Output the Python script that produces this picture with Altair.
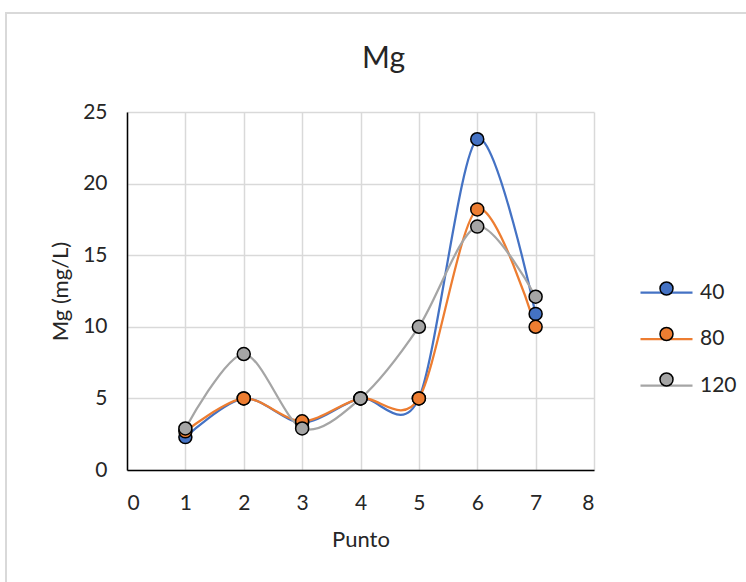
import altair as alt
import pandas as pd

# Sampling points and Mg concentration for each dose
puntos = [1, 2, 3, 4, 5, 6, 7]
series = ["40", "80", "120"]
mg_40 = [2.3, 5.0, 3.3, 5.0, 5.0, 23.1, 10.9]
mg_80 = [2.7, 5.0, 3.4, 5.0, 5.0, 18.2, 10.0]
mg_120 = [2.9, 8.1, 2.9, 5.0, 10.0, 17.0, 12.1]
colores = ["#4472C4", "#ED7D31", "#A5A5A5"]

rows = []
for orden, (serie, valores) in enumerate(zip(series, [mg_40, mg_80, mg_120])):
    for p, v in zip(puntos, valores):
        rows.append({"Punto": p, "Mg": v, "serie": serie, "orden": orden})
df = pd.DataFrame(rows)

FONT = "Lato"
TXT = "#262626"

x_enc = alt.X(
    "Punto:Q",
    scale=alt.Scale(domain=[0, 8], nice=False),
    axis=alt.Axis(values=list(range(0, 9)), title="Punto", format="d"),
)
y_enc = alt.Y(
    "Mg:Q",
    scale=alt.Scale(domain=[0, 25], nice=False),
    axis=alt.Axis(values=[0, 5, 10, 15, 20, 25], title="Mg (mg/L)", format="d"),
)

base = alt.Chart(df)

lines = base.mark_line(interpolate="cardinal", tension=0.1, strokeWidth=2.25).encode(
    x=x_enc,
    y=y_enc,
    color=alt.Color(
        "serie:N",
        scale=alt.Scale(domain=series, range=colores),
        legend=alt.Legend(
            title=None,
            orient="none",
            legendX=512,
            legendY=153,
            padding=0,
            symbolType="stroke",
            symbolSize=2704,
            symbolStrokeWidth=2.25,
            labelFontSize=21,
            labelFont=FONT,
            labelColor=TXT,
            labelOffset=6,
            rowPadding=8.5,
        ),
    ),
    detail="orden:O",
)

points = base.mark_point(
    filled=True, size=169, stroke="black", strokeWidth=1.5, opacity=1
).encode(
    x=x_enc,
    y=y_enc,
    fill=alt.Fill(
        "orden:N",
        scale=alt.Scale(domain=[0, 1, 2], range=colores),
        legend=alt.Legend(
            title=None,
            orient="none",
            legendX=529,
            legendY=166,
            padding=0,
            symbolType="circle",
            symbolSize=169,
            symbolStrokeColor="black",
            symbolStrokeWidth=1.5,
            symbolOpacity=1,
            labelExpr="''",
            labelFontSize=21,
            rowPadding=23.5,
        ),
    ),
    order=alt.Order("orden:Q"),
)

# Light frame around the whole figure
frame = alt.Chart(alt.Data(values=[{"k": 0}])).mark_rect(
    fill=None, stroke="#d9d9d9", strokeWidth=2
).encode(
    x=alt.value(-121), x2=alt.value(700), y=alt.value(-99), y2=alt.value(560)
)

chart = (
    alt.layer(frame, lines, points)
    .properties(
        width=467,
        height=358,
        title=alt.Title(
            "Mg", fontSize=30, font=FONT, fontWeight="normal", color=TXT,
            anchor="middle", frame="group", dx=23, dy=62, offset=0,
        ),
        autosize=alt.AutoSizeParams(type="none"),
        padding={"left": 127, "top": 112, "right": 152, "bottom": 112},
    )
    .resolve_scale(color="independent", fill="independent")
    .configure(background="white")
    .configure_view(stroke=None)
    .configure_axis(
        labelFont=FONT,
        labelFontSize=21,
        labelColor=TXT,
        titleFont=FONT,
        titleFontSize=22,
        titleFontWeight="normal",
        titleColor=TXT,
        gridColor="#d9d9d9",
        gridWidth=1.5,
        domainColor="#000000",
        domainWidth=1.5,
        ticks=False,
    )
    .configure_axisX(labelPadding=22, titlePadding=16, domain=True)
    .configure_axisY(labelPadding=20, titlePadding=10)
)

chart.save("out.html", embed_options={"renderer": "svg", "actions": False})
